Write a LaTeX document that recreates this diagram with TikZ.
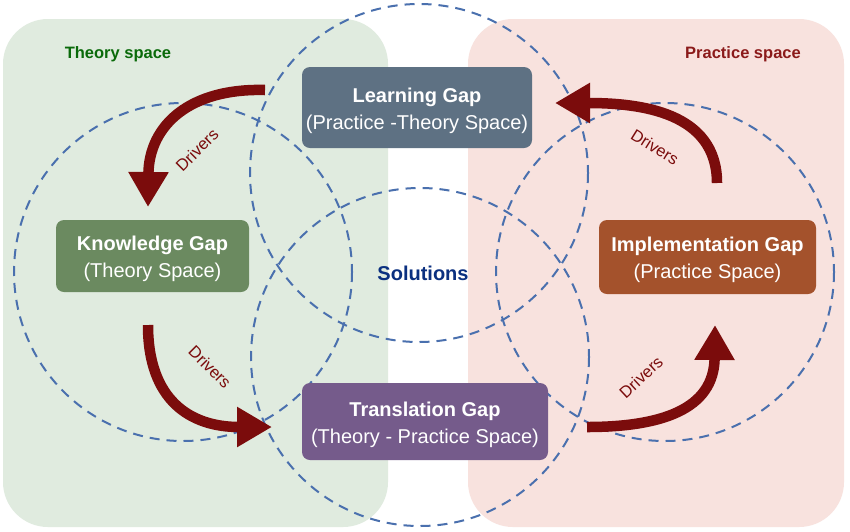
\documentclass[tikz,border=0pt]{standalone}
\usepackage{fontspec}
\setmainfont{Liberation Sans}
\usetikzlibrary{arrows.meta}
\definecolor{bggreen}{HTML}{E0EBDF}
\definecolor{bgpink}{HTML}{F8E2DE}
\definecolor{clearn}{HTML}{5E7183}
\definecolor{cknow}{HTML}{6B8A60}
\definecolor{cimpl}{HTML}{A4522C}
\definecolor{ctrans}{HTML}{755B8B}
\definecolor{carrow}{HTML}{7B0C0C}
\definecolor{ctheory}{HTML}{0A6A0A}
\definecolor{cpract}{HTML}{8B1A1A}
\definecolor{csol}{HTML}{0B3080}
\definecolor{cdash}{HTML}{4A70AE}
\newcommand{\topstrut}{\rule{0pt}{20.5pt}}
\begin{document}
\begin{tikzpicture}[x=1pt,y=-1pt,
  gapbox/.style={rounded corners=8pt, text=white, align=center, inner sep=0pt,
    font=\fontsize{20}{27}\selectfont},
  ring/.style={draw=cdash, line width=2pt, dash pattern=on 10pt off 7pt},
  driver/.style={draw=carrow, line width=10.5pt,
    -{Triangle[width=38pt,length=35pt]}},
  drvlabel/.style={text=carrow, font=\fontsize{16.5}{18}\selectfont, inner sep=0pt},
  spacelabel/.style={font=\bfseries\fontsize{16.5}{18}\selectfont, inner sep=0pt}]
\useasboundingbox (0,0) rectangle (850,531);
\fill[white] (0,0) rectangle (850,531);
% background spaces
\fill[bggreen, rounded corners=45pt] (3,19) rectangle (388,527);
\fill[bgpink, rounded corners=45pt] (468,19) rectangle (844,527);
% circles
\draw[ring] (419,173) circle[radius=169];
\draw[ring] (183,272) circle[radius=169];
\draw[ring] (665,272) circle[radius=169];
\draw[ring] (420,357) circle[radius=169];
% labels
\node[spacelabel, text=ctheory] (theory) at (118,54) {Theory space};
\node[spacelabel, text=cpract] (practice) at (743,54) {Practice space};
\node[font=\bfseries\fontsize{20}{22}\selectfont, text=csol, inner sep=0pt] (sol) at (423,273) {Solutions};
% boxes
\node[gapbox, fill=clearn, minimum width=230pt, minimum height=81pt] (learn) at (417,107.5)
  {\topstrut\textbf{Learning Gap}\\(Practice -Theory Space)};
\node[gapbox, fill=cknow, minimum width=193pt, minimum height=72pt] (know) at (152.5,256)
  {\topstrut\textbf{Knowledge Gap}\\(Theory Space)};
\node[gapbox, fill=cimpl, minimum width=217pt, minimum height=74pt] (impl) at (707.5,257)
  {\topstrut\textbf{Implementation Gap}\\(Practice Space)};
\node[gapbox, fill=ctrans, minimum width=246pt, minimum height=77pt] (trans) at (425,421.5)
  {\topstrut\textbf{Translation Gap}\\(Theory - Practice Space)};
% arrow end points
\coordinate (a1s) at (265,90);
\coordinate (a1e) at (148,207);
\coordinate (a2s) at (148,325);
\coordinate (a2e) at (272,427);
\coordinate (a3s) at (587,427);
\coordinate (a3e) at (715,325);
\coordinate (a4s) at (717,183);
\coordinate (a4e) at (555,103);
% arrows
\draw[driver] (a1s) .. controls (190,88) and (149,125) .. (a1e);
\draw[driver] (a2s) .. controls (148,400) and (190,427) .. (a2e);
\draw[driver] (a3s) .. controls (660,427) and (714,410) .. (a3e);
\draw[driver] (a4s) .. controls (717,112) and (640,103) .. (a4e);
% driver labels
\node[drvlabel, rotate=45] (d1) at (197,150) {Drivers};
\node[drvlabel, rotate=-45] (d2) at (210,367) {Drivers};
\node[drvlabel, rotate=43] (d3) at (641,377) {Drivers};
\node[drvlabel, rotate=-32] (d4) at (655,147) {Drivers};
\end{tikzpicture}
\end{document}
